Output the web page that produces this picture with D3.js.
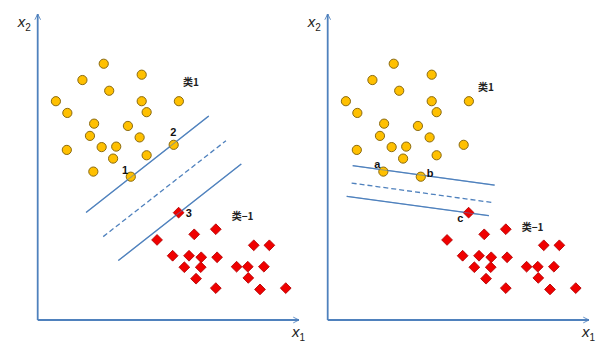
<!DOCTYPE html>
<html>
<head>
<meta charset="utf-8">
<script src="https://cdn.jsdelivr.net/npm/d3@7"></script>
<style>
  html, body { margin: 0; padding: 0; background: #fff; }
  svg { display: block; }
</style>
</head>
<body>
<svg id="chart" width="607" height="346"></svg>
<script>
// Class +1 samples (circles), in feature units
const posX1 = [2.54, 4.00, 1.72, 2.75, 0.70, 4.00, 5.43, 1.14, 4.19, 2.17, 3.47,
               2.01, 3.92, 5.23, 1.12, 2.46, 3.02, 4.19, 2.90, 2.14, 3.58];
const posX2 = [10.05, 9.62, 9.41, 8.99, 8.58, 8.58, 8.58, 8.12, 8.15, 7.70, 7.61,
               7.22, 7.16, 6.87, 6.67, 6.78, 6.80, 6.46, 6.33, 5.82, 5.62];

// Class -1 samples (diamonds)
const negX1 = [5.42, 6.85, 6.02, 4.59, 8.31, 8.91, 5.19, 5.82, 6.29, 6.90,
               5.64, 6.27, 7.65, 8.08, 8.70, 6.09, 8.10, 6.85, 8.55, 9.54];
const negX2 = [4.21, 3.56, 3.36, 3.14, 2.93, 2.93, 2.52, 2.52, 2.46, 2.46,
               2.07, 2.07, 2.09, 2.09, 2.09, 1.62, 1.65, 1.25, 1.20, 1.25];

// Separating line (middle) and its two margin lines, as segment end points
// order: upper margin, hyperplane, lower margin
const leftLineX1a = [1.86, 2.52, 3.10];
const leftLineX2a = [4.22, 3.27, 2.33];
const leftLineX1b = [6.58, 7.24, 7.83];
const leftLineX2b = [8.00, 7.03, 6.12];

const rightLineX1a = [0.96, 0.92, 0.73];
const rightLineX2a = [6.05, 5.37, 4.85];
const rightLineX1b = [6.42, 6.38, 6.20];
const rightLineX2b = [5.29, 4.60, 4.09];

// Class names and support-vector tags
const classNames = ["类1", "类−1"];
const leftTags = ["1", "2", "3"];
const rightTags = ["a", "b", "c"];

const svg = d3.select("#chart");
const blue = "#4f81bd";

const y = d3.scaleLinear().domain([0, 12]).range([320, 14]);
const xLeft = d3.scaleLinear().domain([0, 10]).range([37.7, 297.7]);
const xRight = d3.scaleLinear().domain([0, 10]).range([327.7, 587.7]);

// open arrow head for the axes
const defs = svg.append("defs");
defs.append("marker")
  .attr("id", "arrow")
  .attr("viewBox", "0 0 10 10")
  .attr("refX", 9).attr("refY", 5)
  .attr("markerWidth", 4).attr("markerHeight", 4)
  .attr("markerUnits", "strokeWidth")
  .attr("orient", "auto")
  .append("path")
  .attr("d", "M1,1 L9,5 L1,9")
  .attr("fill", "none")
  .attr("stroke", blue)
  .attr("stroke-width", 1.2);

const pos = posX1.map((v, i) => ({ x1: v, x2: posX2[i] }));
const neg = negX1.map((v, i) => ({ x1: v, x2: negX2[i] }));

const diamond = d3.symbol().type(d3.symbolSquare).size(58);

function panel(x, la, lb, lc, ld, tags, tagSpots, classSpots) {
  const g = svg.append("g");

  // axes
  g.append("line")
    .attr("x1", x(0)).attr("y1", y(0))
    .attr("x2", x(10.05)).attr("y2", y(0))
    .attr("stroke", blue).attr("stroke-width", 1.8)
    .attr("marker-end", "url(#arrow)");
  g.append("line")
    .attr("x1", x(0)).attr("y1", y(0))
    .attr("x2", x(0)).attr("y2", y(12))
    .attr("stroke", blue).attr("stroke-width", 1.8)
    .attr("marker-end", "url(#arrow)");

  // axis titles
  const tx = g.append("text")
    .attr("x", x(10.05) - 7).attr("y", y(0) + 17)
    .attr("font-family", "'Liberation Sans', Arial, sans-serif")
    .attr("fill", "#222");
  tx.append("tspan").attr("font-size", 15).attr("font-style", "italic").text("x");
  tx.append("tspan").attr("font-size", 10).attr("dy", 4).text("1");

  const ty = g.append("text")
    .attr("x", x(0) - 20).attr("y", y(12) + 13)
    .attr("font-family", "'Liberation Sans', Arial, sans-serif")
    .attr("fill", "#222");
  ty.append("tspan").attr("font-size", 15).attr("font-style", "italic").text("x");
  ty.append("tspan").attr("font-size", 10).attr("dy", 4).text("2");

  // separating line and margins
  const segs = la.map((v, i) => ({ a: v, b: lb[i], c: lc[i], d: ld[i], mid: i === 1 }));
  g.selectAll("line.sep").data(segs).join("line")
    .attr("class", "sep")
    .attr("x1", d => x(d.a)).attr("y1", d => y(d.b))
    .attr("x2", d => x(d.c)).attr("y2", d => y(d.d))
    .attr("stroke", blue).attr("stroke-width", 1.3)
    .attr("stroke-dasharray", d => d.mid ? "5,3" : null);

  // class +1 points
  g.selectAll("circle").data(pos).join("circle")
    .attr("cx", d => x(d.x1)).attr("cy", d => y(d.x2))
    .attr("r", 4.6)
    .attr("fill", "#ffc000")
    .attr("stroke", "#8a6a10").attr("stroke-width", 1);

  // class -1 points
  g.selectAll("path.neg").data(neg).join("path")
    .attr("class", "neg")
    .attr("d", diamond)
    .attr("transform", d => `translate(${x(d.x1)},${y(d.x2)}) rotate(45)`)
    .attr("fill", "#f00000")
    .attr("stroke", "#b00000").attr("stroke-width", 0.8);

  // redraw the lines over the support vectors they pass through
  g.selectAll("line.sep2").data(segs.filter(d => !d.mid)).join("line")
    .attr("class", "sep2")
    .attr("x1", d => x(d.a)).attr("y1", d => y(d.b))
    .attr("x2", d => x(d.c)).attr("y2", d => y(d.d))
    .attr("stroke", blue).attr("stroke-width", 1.1).attr("stroke-opacity", 0.55);

  // support vector tags
  tagSpots.forEach((s, i) => {
    const p = s.set[s.idx];
    g.append("text")
      .attr("x", x(p.x1) + s.dx).attr("y", y(p.x2) + s.dy)
      .attr("text-anchor", "middle").attr("dominant-baseline", "central")
      .attr("font-family", "'Liberation Sans', Arial, sans-serif")
      .attr("font-weight", "bold").attr("font-size", 11)
      .attr("fill", "#111")
      .text(tags[i]);
  });

  // class names
  classSpots.forEach((s, i) => {
    g.append("text")
      .attr("x", x(s.x1)).attr("y", y(s.x2))
      .attr("font-family", "'Noto Sans CJK SC', sans-serif")
      .attr("font-weight", "bold").attr("font-size", 10)
      .attr("fill", "#222")
      .text(classNames[i]);
  });
}

panel(xLeft, leftLineX1a, leftLineX2a, leftLineX1b, leftLineX2b, leftTags,
  [{ set: pos, idx: 20, dx: -5.7, dy: -6.7 },
   { set: pos, idx: 13, dx: -0.4, dy: -12.7 },
   { set: neg, idx: 0, dx: 10.3, dy: 0.6 }],
  [{ x1: 5.59, x2: 9.18 }, { x1: 7.46, x2: 3.92 }]);

panel(xRight, rightLineX1a, rightLineX2a, rightLineX1b, rightLineX2b, rightTags,
  [{ set: pos, idx: 19, dx: -6, dy: -7.4 },
   { set: pos, idx: 20, dx: 9.3, dy: -3.4 },
   { set: neg, idx: 0, dx: -8.3, dy: 5 }],
  [{ x1: 5.78, x2: 9.0 }, { x1: 7.46, x2: 3.5 }]);
</script>
</body>
</html>
